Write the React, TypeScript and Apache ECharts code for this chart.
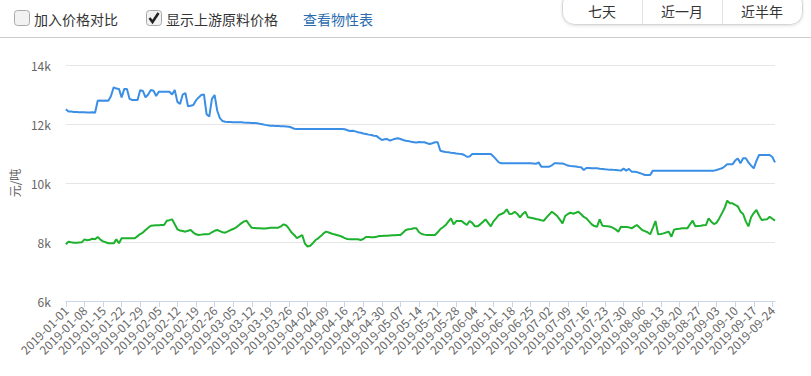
import React, { useEffect, useRef } from "react";
import * as echarts from "echarts";

const startDate = "2019-01-01";

// Product price (blue), one value per day from 2019-01-01
const productPrice: number[] = [
  12500, 12420, 12420, 12410, 12410, 12400, 12400,
  12400, 12390, 12390, 12400, 12380, 12790, 12800,
  12790, 12800, 12790, 12950, 13245, 13200, 13190,
  12900, 13190, 13190, 12850, 12815, 12815, 12815,
  13150, 13120, 12900, 13000, 13150, 13130, 12950,
  13095, 13095, 13095, 13095, 13095, 13000, 13150,
  12750, 12680, 13000, 13050, 12600, 12620, 12645,
  12800, 12900, 12980, 13000, 12330, 12250, 12850,
  12985, 12450, 12200, 12100, 12078, 12070, 12065,
  12060, 12060, 12056, 12056, 12050, 12045, 12040,
  12035, 12030, 12022, 12005, 11990, 11970, 11955,
  11943, 11940, 11935, 11930, 11925, 11920, 11915,
  11909, 11880, 11840, 11830, 11830, 11830, 11830,
  11830, 11830, 11830, 11830, 11830, 11830, 11830,
  11830, 11830, 11830, 11830, 11830, 11830, 11830,
  11820, 11790, 11763, 11770, 11750, 11720, 11706,
  11680, 11660, 11640, 11627, 11600, 11590, 11520,
  11458, 11480, 11492, 11435, 11470, 11500, 11515,
  11490, 11460, 11435, 11420, 11400, 11385, 11370,
  11390, 11379, 11379, 11350, 11322, 11350, 11379,
  11379, 11095, 11070, 11050, 11040, 11027, 11020,
  11000, 10990, 10983, 10950, 10890, 10900, 10983,
  10983, 10983, 10983, 10983, 10983, 10983, 10983,
  10900, 10800, 10700, 10668, 10668, 10668, 10668,
  10668, 10668, 10668, 10668, 10668, 10668, 10668,
  10668, 10660, 10650, 10700, 10555, 10555, 10555,
  10555, 10600, 10668, 10668, 10665, 10660, 10630,
  10590, 10577, 10570, 10560, 10545, 10532, 10442,
  10510, 10505, 10500, 10498, 10498, 10485, 10475,
  10464, 10455, 10450, 10445, 10442, 10430, 10420,
  10487, 10420, 10480, 10385, 10380, 10370, 10340,
  10310, 10271, 10271, 10271, 10419, 10419, 10419,
  10419, 10419, 10419, 10419, 10419, 10419, 10419,
  10419, 10419, 10419, 10419, 10419, 10419, 10419,
  10419, 10419, 10419, 10419, 10419, 10419, 10419,
  10440, 10470, 10498, 10560, 10634, 10634, 10634,
  10760, 10830, 10668, 10837, 10837, 10700, 10590,
  10498, 10750, 10949, 10949, 10949, 10949, 10949,
  10880, 10700,
];

// Upstream raw material price (green)
const upstreamPrice: number[] = [
  7921, 8010, 7990, 7977, 7977, 7985, 7990,
  8090, 8060, 8075, 8110, 8090, 8170, 8080,
  8020, 7990, 7960, 7955, 7955, 8090, 7960,
  8124, 8124, 8124, 8124, 8124, 8130, 8200,
  8270, 8320, 8406, 8480, 8553, 8560, 8565,
  8570, 8575, 8576, 8723, 8740, 8768, 8600,
  8430, 8390, 8373, 8350, 8380, 8406, 8320,
  8260, 8237, 8250, 8260, 8265, 8270, 8330,
  8380, 8406, 8370, 8330, 8316, 8360, 8406,
  8440, 8485, 8560, 8632, 8690, 8723, 8600,
  8480, 8475, 8470, 8465, 8460, 8460, 8470,
  8480, 8480, 8485, 8485, 8530, 8600, 8560,
  8450, 8320, 8237, 8130, 8180, 8237, 7950,
  7845, 7875, 7960, 8067, 8124, 8200, 8290,
  8350, 8320, 8290, 8260, 8240, 8214, 8180,
  8130, 8101, 8095, 8090, 8090, 8090, 8070,
  8100, 8170, 8170, 8160, 8160, 8180, 8203,
  8205, 8210, 8215, 8220, 8225, 8230, 8235,
  8237, 8320, 8406, 8430, 8440, 8463, 8463,
  8330, 8271, 8250, 8237, 8237, 8237, 8237,
  8330, 8440, 8500, 8576, 8690, 8802, 8598,
  8711, 8711, 8711, 8640, 8576, 8711, 8650,
  8530, 8530, 8598, 8680, 8768, 8650, 8530,
  8700, 8800, 8915, 8950, 8993, 9108, 8950,
  8960, 9028, 8950, 8836, 8950, 9028, 8836,
  8820, 8802, 8780, 8760, 8740, 8723, 8836,
  8930, 9028, 8960, 8881, 8760, 8632, 8881,
  8950, 8993, 8960, 8990, 9028, 8940, 8850,
  8802, 8700, 8600, 8540, 8519, 8768, 8553,
  8540, 8530, 8519, 8480, 8428, 8350, 8519,
  8512, 8505, 8496, 8463, 8520, 8576, 8490,
  8406, 8370, 8330, 8260, 8480, 8711, 8260,
  8270, 8293, 8320, 8350, 8180, 8420, 8440,
  8450, 8463, 8463, 8463, 8600, 8723, 8530,
  8540, 8550, 8565, 8576, 8802, 8690, 8610,
  8650, 8800, 8971, 9142, 9400, 9312, 9312,
  9260, 9210, 9028, 8950, 8700, 8530, 8836,
  8980, 9085, 8900, 8745, 8760, 8768, 8858,
  8790, 8723,
];

const yTicks = { min: 6000, max: 14000, interval: 2000 };
const yAxisName = "元/吨";
const checkLabels = ["加入价格对比", "显示上游原料价格"];
const linkLabel = "查看物性表";
const rangeButtons = ["七天", "近一月", "近半年"];

function buildDates(start: string, n: number): string[] {
  const out: string[] = [];
  const d0 = new Date(start + "T00:00:00Z").getTime();
  for (let i = 0; i < n; i++) {
    const d = new Date(d0 + i * 86400000);
    const m = String(d.getUTCMonth() + 1).padStart(2, "0");
    const day = String(d.getUTCDate()).padStart(2, "0");
    out.push(`${d.getUTCFullYear()}-${m}-${day}`);
  }
  return out;
}

const FONT = '"Microsoft YaHei", "Noto Sans CJK SC", "Noto Sans", sans-serif';

export default function App() {
  const ref = useRef<HTMLDivElement>(null);
  useEffect(() => {
    if (!ref.current) return;
    const chart = echarts.init(ref.current, undefined, { renderer: "svg" });
    const dates = buildDates(startDate, productPrice.length);
    const btnX = [562, 642, 722, 802];
    const graphic: any[] = [
      { type: "line", shape: { x1: 0, y1: 37.5, x2: 811, y2: 37.5 }, style: { stroke: "#cccccc", lineWidth: 1 }, silent: true },
      // checkbox 1
      { type: "rect", shape: { x: 14.5, y: 10.5, width: 15, height: 15, r: 3 }, style: { fill: "#f2f2f2", stroke: "#a9a9a9", lineWidth: 1 } },
      { type: "text", style: { text: checkLabels[0], x: 34, y: 19, fill: "#333", fontSize: 14, fontFamily: FONT, textVerticalAlign: "middle" } },
      // checkbox 2
      { type: "rect", shape: { x: 146.5, y: 10.5, width: 15, height: 15, r: 3 }, style: { fill: "#f2f2f2", stroke: "#a9a9a9", lineWidth: 1 } },
      { type: "polyline", shape: { points: [[149.5, 18], [152.5, 22], [158.5, 13]] }, style: { stroke: "#222", lineWidth: 2.5, fill: "none" } },
      { type: "text", style: { text: checkLabels[1], x: 166, y: 19, fill: "#333", fontSize: 14, fontFamily: FONT, textVerticalAlign: "middle" } },
      { type: "text", style: { text: linkLabel, x: 303, y: 19, fill: "#2b6cb0", fontSize: 14, fontFamily: FONT, textVerticalAlign: "middle" } },
      // button group
      { type: "rect", shape: { x: 562.5, y: -8.5, width: 240, height: 33, r: 12 }, style: { fill: "#fff", stroke: "#d6d6d6", lineWidth: 1, shadowBlur: 3, shadowColor: "rgba(0,0,0,0.12)", shadowOffsetY: 1 } },
      { type: "line", shape: { x1: 642.5, y1: 0, x2: 642.5, y2: 24 }, style: { stroke: "#e2e2e2", lineWidth: 1 } },
      { type: "line", shape: { x1: 722.5, y1: 0, x2: 722.5, y2: 24 }, style: { stroke: "#e2e2e2", lineWidth: 1 } },
      ...rangeButtons.map((t, i) => ({
        type: "text",
        style: { text: t, x: (btnX[i] + btnX[i + 1]) / 2, y: 10.5, fill: "#333", fontSize: 14, fontFamily: FONT, textAlign: "center", textVerticalAlign: "middle" },
      })),
    ];
    chart.setOption({
      animation: false,
      textStyle: { fontFamily: FONT },
      graphic,
      grid: { left: 62, right: 36, top: 65, bottom: 75, containLabel: false },
      xAxis: {
        type: "category",
        data: dates,
        boundaryGap: false,
        axisLine: { lineStyle: { color: "#ccd6eb" } },
        axisTick: { interval: 6, length: 6, lineStyle: { color: "#ccd6eb" } },
        axisLabel: { interval: 6, rotate: 45, color: "#666", fontSize: 12, margin: 7, fontFamily: FONT },
        splitLine: { show: false },
      },
      yAxis: {
        type: "value",
        min: yTicks.min,
        max: yTicks.max,
        interval: yTicks.interval,
        name: yAxisName,
        nameLocation: "middle",
        nameRotate: 90,
        nameGap: 45,
        nameTextStyle: { color: "#666", fontSize: 12, fontFamily: FONT },
        axisLine: { show: false },
        axisTick: { show: false },
        axisLabel: { color: "#666", fontSize: 12, margin: 15, formatter: (v: number) => v / 1000 + "k" },
        splitLine: { lineStyle: { color: "#e6e6e6" } },
      },
      series: [
        { type: "line", data: productPrice, showSymbol: false, symbol: "none", lineStyle: { color: "#3a8ee6", width: 2 }, itemStyle: { color: "#3a8ee6" } },
        { type: "line", data: upstreamPrice, showSymbol: false, symbol: "none", lineStyle: { color: "#1db12d", width: 2 }, itemStyle: { color: "#1db12d" } },
      ],
    });
    return () => chart.dispose();
  }, []);
  return <div ref={ref} style={{ position: "absolute", left: 0, top: 0, width: 811, height: 376 }} />;
}
